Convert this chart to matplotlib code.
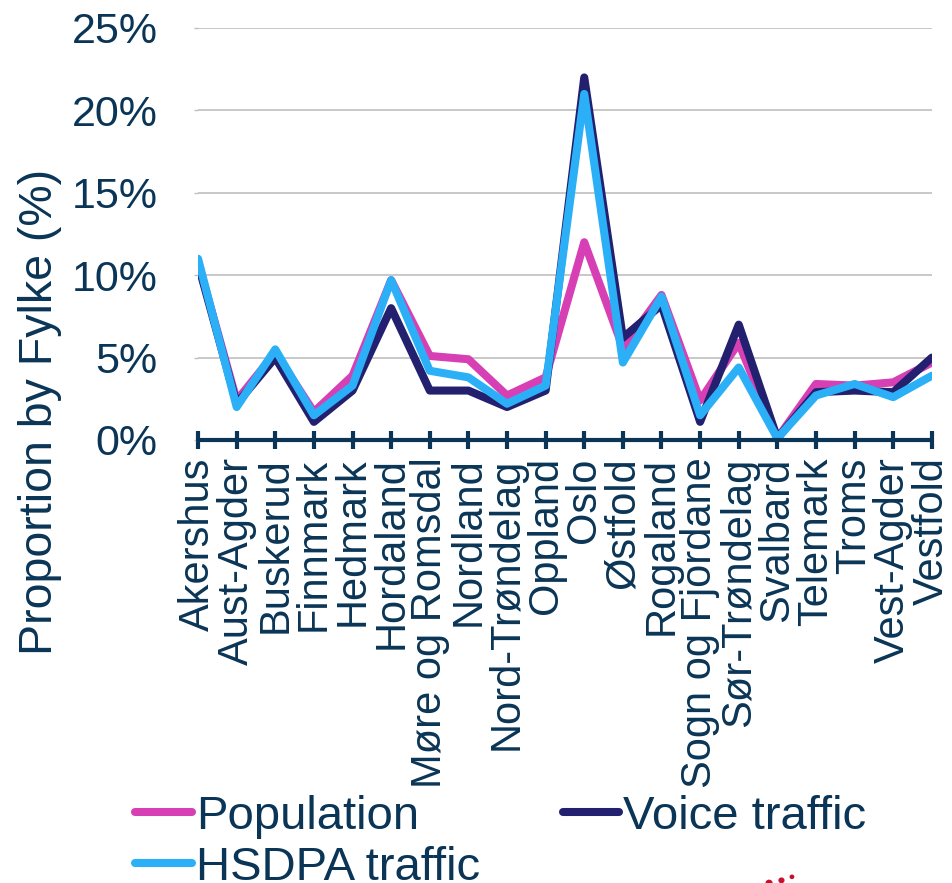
import matplotlib.pyplot as plt
import matplotlib.ticker as mticker

plt.rcParams['font.family'] = ['Liberation Sans', 'DejaVu Sans']

fylker = ["Akershus", "Aust-Agder", "Buskerud", "Finnmark", "Hedmark",
          "Hordaland", "Møre og Romsdal", "Nordland", "Nord-Trøndelag",
          "Oppland", "Oslo", "Østfold", "Rogaland", "Sogn og Fjordane",
          "Sør-Trøndelag", "Svalbard", "Telemark", "Troms", "Vest-Agder",
          "Vestfold"]

population = [10.8, 2.4, 5.3, 1.7, 3.9, 9.7, 5.1, 4.9, 2.7, 3.8,
              12.0, 5.6, 8.8, 2.4, 5.9, 0.1, 3.4, 3.3, 3.5, 4.7]
voice = [10.7, 2.2, 5.0, 1.1, 3.0, 8.0, 3.0, 3.0, 2.0, 3.0,
         22.0, 6.2, 8.2, 1.1, 7.0, 0.1, 2.9, 3.0, 2.9, 5.0]
hsdpa = [11.0, 2.0, 5.5, 1.5, 3.3, 9.7, 4.2, 3.8, 2.2, 3.3,
         21.0, 4.7, 8.7, 1.5, 4.4, 0.1, 2.7, 3.4, 2.6, 3.9]

text_col = '#0B3556'
pink = '#D640B4'
navy = '#22206F'
sky = '#2BB0F8'

fig = plt.figure(figsize=(9.53, 8.83), dpi=100)
ax = fig.add_axes([0.2078, 0.5017, 0.770, 0.4666])

x = range(len(fylker))
style = dict(lw=5.8, solid_joinstyle='round', solid_capstyle='round')
l_pop, = ax.plot(x, population, color=pink, label='Population', **style)
l_voice, = ax.plot(x, voice, color=navy, label='Voice traffic', **style)
l_hsdpa, = ax.plot(x, hsdpa, color=sky, label='HSDPA traffic', **style)

ax.set_xlim(0, len(fylker) - 1)
ax.set_ylim(0, 25)
ax.set_yticks([0, 5, 10, 15, 20, 25])
ax.yaxis.set_major_formatter(mticker.FuncFormatter(lambda v, p: f"{v:.0f}%"))
ax.grid(axis='y', color='#BFBFBF', lw=1.2)
ax.set_axisbelow(True)

for side in ['left', 'right', 'top']:
    ax.spines[side].set_visible(False)
ax.spines['bottom'].set_color(text_col)
ax.spines['bottom'].set_linewidth(3)
ax.spines['bottom'].set_capstyle('round')

ax.set_xticks(list(x))
ax.set_xticklabels(fylker, rotation=90, fontsize=30, color=text_col)
ax.tick_params(axis='x', direction='inout', length=13, width=3,
               color=text_col, pad=6)
ax.tick_params(axis='y', length=3, width=1, color='#BFBFBF', pad=26,
               labelsize=31, labelcolor=text_col)

# the axis title sits low, centred near the 0% line
ax.set_ylabel("Proportion by Fylke (%)", fontsize=33.5, color=text_col)
ax.yaxis.set_label_coords(-0.185, 0.067)

fig.legend(handles=[l_pop, l_hsdpa, l_voice], loc='upper left',
           bbox_to_anchor=(0.142, 0.100), ncol=2, frameon=False,
           fontsize=34, handlelength=1.2, handletextpad=0.08,
           columnspacing=1.75, labelspacing=0.15, borderpad=0,
           borderaxespad=0, labelcolor=text_col)

# partial logo dots at the bottom edge
for fx, fy, r in [(0.807, 0.0, 0.003), (0.82, 0.003, 0.0025), (0.831, 0.007, 0.0018)]:
    fig.add_artist(plt.Circle((fx, fy), r, color='#C8102E',
                              transform=fig.transFigure))

fig.savefig("out.png", dpi=100)
